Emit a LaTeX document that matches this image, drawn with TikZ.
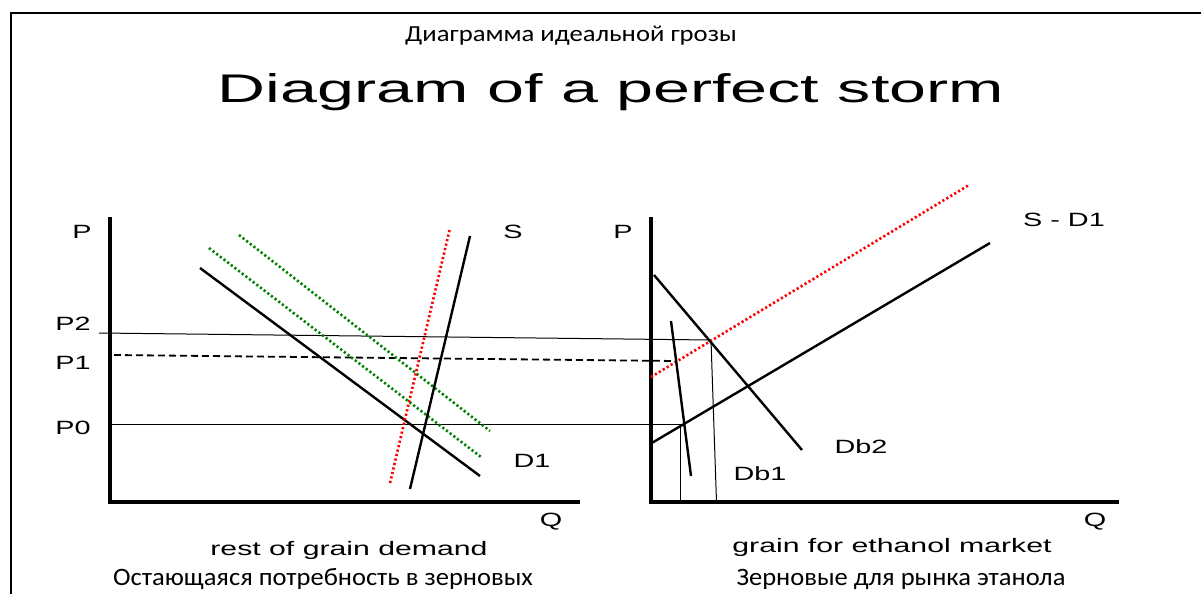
\documentclass[tikz,border=0pt]{standalone}
\usepackage{fontspec}
\usepackage{graphicx}
\setmainfont{Liberation Sans}
\newfontfamily\calfont{Carlito}
\definecolor{stormred}{RGB}{255,0,0}
\definecolor{stormgreen}{RGB}{0,128,0}
\newcommand{\stretchx}[2]{\scalebox{#1}[1]{#2}}

\begin{document}
\begin{tikzpicture}[x=0.5pt,y=-0.5pt,
    axis/.style={line width=1.7pt},
    curve/.style={line width=1.2pt},
    guide/.style={line width=0.5pt},
    shiftline/.style={line width=1.3pt, dash pattern=on 1.1pt off 1.2pt},
    lbl/.style={font=\fontsize{9.6}{11}\selectfont, inner sep=0pt, anchor=base},
    note/.style={font=\fontsize{9.75}{12}\selectfont, inner sep=0pt, anchor=base},
    ru/.style={font=\calfont\fontsize{11.5}{14}\selectfont, inner sep=0pt, anchor=base}
]
\useasboundingbox (0,0) rectangle (1201,594);
% frame
\draw[line width=1pt] (11,594) -- (11,13) -- (1201,13);
% titles
\node[ru] (ruTitle) at (571,41.5) {\stretchx{1.16}{Диаграмма идеальной грозы}};
\node[font=\fontsize{20}{24}\selectfont, inner sep=0pt, anchor=base] (title) at (611,102) {\stretchx{1.66}{Diagram of a perfect storm}};

% left panel: rest of grain demand
\coordinate (oL) at (110,502);
\draw[axis] (110,217) -- (oL) -- (580,502);
\draw[guide] (99,333) -- (711,340);
\draw[line width=0.9pt, dash pattern=on 3.5pt off 2pt] (114,355) -- (675,361);
\draw[guide] (oL |- 0,424) -- (682,424);
\draw[curve] (200,268) -- (480,476);
\draw[shiftline, stormgreen] (209,248) -- (481,457);
\draw[shiftline, stormgreen] (239,235) -- (490,431);
\draw[shiftline, stormred] (390,483) -- (450,228);
\draw[curve] (410,489) -- (470,236);

% right panel: grain for ethanol market
\coordinate (oR) at (651,502);
\draw[guide] (680.5,424) -- (680.5,502);
\draw[guide] (711,340) -- (716.5,502);
\draw[axis] (651,217) -- (oR) -- (1119,502);
\draw[shiftline, stormred] (651,377) -- (969,185);
\draw[curve] (651.8,443) -- (990,243);
\draw[curve] (654,275) -- (802,450);
\draw[curve] (671,321) -- (691,476);

% axis and curve labels
\node[lbl] (pL) at (82,238) {\stretchx{1.5}{P}};
\node[lbl, anchor=base west] (p2) at (55,330) {\stretchx{1.5}{P2}};
\node[lbl, anchor=base west] (p1) at (55,369) {\stretchx{1.5}{P1}};
\node[lbl, anchor=base west] (p0) at (55,434) {\stretchx{1.5}{P0}};
\node[lbl] (sL) at (513,238) {\stretchx{1.5}{S}};
\node[lbl] (d1) at (532,467) {\stretchx{1.5}{D1}};
\node[lbl] (qL) at (551,526) {\stretchx{1.5}{Q}};
\node[lbl] (pR) at (623,238) {\stretchx{1.5}{P}};
\node[lbl] (sd1) at (1064,226) {\stretchx{1.5}{S - D1}};
\node[lbl] (db2) at (861,453) {\stretchx{1.5}{Db2}};
\node[lbl] (db1) at (760,480) {\stretchx{1.5}{Db1}};
\node[lbl] (qR) at (1095,526) {\stretchx{1.5}{Q}};

% panel captions
\node[note] (restEn) at (349,555) {\stretchx{1.55}{rest of grain demand}};
\node[note] (ethEn) at (892,552) {\stretchx{1.55}{grain for ethanol market}};
\node[ru, font=\calfont\fontsize{12.5}{15}\selectfont] (restRu) at (323,585) {\stretchx{1.06}{Остающаяся потребность в зерновых}};
\node[ru, font=\calfont\fontsize{12.5}{15}\selectfont] (ethRu) at (901,585) {\stretchx{1.06}{Зерновые для рынка этанола}};
\end{tikzpicture}
\end{document}
